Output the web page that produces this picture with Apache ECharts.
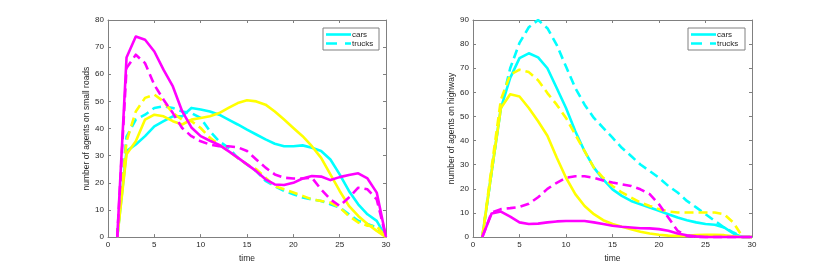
<!DOCTYPE html>
<html>
<head>
<meta charset="utf-8">
<script src="https://cdn.jsdelivr.net/npm/echarts@6/dist/echarts.min.js"></script>
<style>html,body{margin:0;padding:0;background:#fff}#c{width:830px;height:268px}</style>
</head>
<body>
<div id="c"></div>
<script>
const time = [1,2,3,4,5,6,7,8,9,10,11,12,13,14,15,16,17,18,19,20,21,22,23,24,25,26,27,28,29,30];
const xTicks = [0,5,10,15,20,25,30];

// Left panel: agents on small roads
const smallCyanCars   = [0,31.7,34.1,37.2,40.8,42.7,44.5,44.5,47.6,47,46.3,45.1,43.3,41.5,39.6,37.8,36,34.4,33.5,33.5,33.8,32.9,31.7,28.6,23.1,17,12.1,8.4,6,0];
const smallCyanTrucks = [0,37,43.3,45.1,47.6,48.2,47.6,46.3,45.7,43.9,39,35.3,32.9,29.2,26.8,24.3,20.7,18.8,17,15.8,14.6,13.9,13.3,12.1,10.9,8.4,6,4.8,3.6,0];
const smallYellowCars   = [0,30.5,35.3,43.3,45.1,44.5,42.7,41.5,43.3,43.9,44.5,45.7,47.6,49.4,50.4,50,48.8,46.3,43.3,40.2,37.2,33.5,29.2,23.1,17,11.5,7.8,4.8,2.3,0];
const smallYellowTrucks = [0,35.3,46.3,51.3,52.5,50,45.7,43.3,42.7,40.2,36.6,34.1,31.7,29.2,26.8,25,21.9,18.8,17.6,16.4,15.2,13.9,13.3,12.7,10.9,7.8,5.4,4.2,4,0];
const smallMagentaCars   = [0,66.2,73.9,72.7,68.4,61.6,55.5,46.4,40.4,37.2,35.5,34,31.7,29.3,26.8,24.3,21.3,19.4,19.2,20,21.6,22.5,22.3,21,22.1,22.9,23.5,21.6,16.4,0];
const smallMagentaTrucks = [0,62.3,67.2,64.1,56.1,50.6,45.7,40.2,37.2,35.3,34.1,33.5,33.5,33.1,31.7,28.6,25.6,23.1,21.9,21.6,21.6,21.9,17.6,13.9,11.5,14.6,18.2,17.6,13.9,0];
const smallYTicks = [0,10,20,30,40,50,60,70,80];

// Right panel: agents on highway
const hwCyanCars   = [0,27,53.5,66,74.2,76.2,74.5,70,61.8,53.5,43.9,35.6,28.8,23.9,19.8,17.1,15,13.6,12.3,10.9,9.5,8.1,7,6.1,5.4,5.1,4,1.5,0,0];
const hwCyanTrucks = [0,27,54,70,80.5,87,90,86.6,79.7,70.7,61.8,54.9,49.4,45.3,41.2,37,33.6,30.1,27.4,24.6,21.2,18.5,15,12.3,9.5,6.7,4,1.9,0,0];
const hwYellowCars   = [0,27,53.5,59.2,58.3,53.5,48,42,33,24.6,17.8,12.9,9.5,7,5.4,4.3,3.3,2.2,1.5,1,0.6,0.5,0.5,0.8,1,1,0.8,0.3,0,0];
const hwYellowTrucks = [0,29,57,67.3,69.4,68.4,65,59.7,54.9,49.4,42.5,35.6,28.8,24.6,21.2,18.5,16.4,14.3,12.9,11.6,10.6,10.2,10.2,10.2,10.2,10.2,9.5,6,0,0];
const hwMagentaCars   = [0,9.8,10.6,8.5,6.1,5.4,5.6,6.1,6.5,6.7,6.7,6.7,6.1,5.4,4.7,4.3,4,3.7,3.6,3.3,2.6,1.5,0.8,0.3,0,0,0,0,0,0];
const hwMagentaTrucks = [0,10.2,11.6,12,12.5,13.8,16.5,20,22.5,24.6,25.2,25.2,24.6,23.5,22.6,21.9,21.2,19.8,17.8,13.6,8.1,2.6,0.5,0,0,0,0,0,0,0];
const hwYTicks = [0,10,20,30,40,50,60,70,80,90];

const legendNames = ['cars','trucks'];
const xName = 'time';
const leftYName = 'number of agents on small roads';
const rightYName = 'number of agents on highway';

const CYAN = '#00FFFF', YELLOW = '#FFFF00', MAGENTA = '#FF00FF';
const AXC = '#262626';
const FONT = 'Liberation Sans';
const DASH = [9, 5];
const pair = arr => time.map((t, i) => [t, arr[i]]);

function xAx(grid, pos, showLabel, name) {
  return {
    type: 'value', gridIndex: grid, position: pos, min: xTicks[0], max: xTicks[xTicks.length-1], interval: 5,
    name: name || '', nameLocation: 'middle', nameGap: 16,
    nameTextStyle: { color: AXC, fontSize: 8.5, fontFamily: FONT },
    axisLine: { show: true, onZero: false, lineStyle: { color: '#808080', width: 1 } },
    axisTick: { show: true, inside: true, length: 3, lineStyle: { color: '#808080' } },
    axisLabel: { show: showLabel, color: AXC, fontSize: 8, fontFamily: FONT, margin: 4 },
    splitLine: { show: false }
  };
}
function yAx(grid, pos, ticks, showLabel, name) {
  return {
    type: 'value', gridIndex: grid, position: pos, min: ticks[0], max: ticks[ticks.length-1], interval: 10,
    name: name || '', nameLocation: 'middle', nameGap: 15, nameRotate: 90,
    nameTextStyle: { color: AXC, fontSize: 8.5, fontFamily: FONT },
    axisLine: { show: true, onZero: false, lineStyle: { color: '#808080', width: 1 } },
    axisTick: { show: true, inside: true, length: 3, lineStyle: { color: '#808080' } },
    axisLabel: { show: showLabel, color: AXC, fontSize: 8, fontFamily: FONT, margin: 4 },
    splitLine: { show: false }
  };
}
function ser(name, xi, yi, arr, color, dashed) {
  return {
    type: 'line', name: name, xAxisIndex: xi, yAxisIndex: yi, data: pair(arr),
    showSymbol: false, symbol: 'none', animation: false, silent: true,
    lineStyle: { color: color, width: 2.6, type: dashed ? DASH : 'solid', cap: 'butt', join: 'round' },
    itemStyle: { color: color }
  };
}
// legend drawn as graphic group (box + two line samples + labels)
function legendGroup(left, top, w) {
  return {
    type: 'group', left: left, top: top,
    children: [
      { type: 'rect', shape: { x: 0, y: 0, width: w, height: 22 }, style: { fill: '#fff', stroke: '#808080', lineWidth: 1 } },
      { type: 'line', shape: { x1: 3, y1: 6.5, x2: 28, y2: 6.5 }, style: { stroke: CYAN, lineWidth: 2.6 } },
      { type: 'line', shape: { x1: 3, y1: 15.5, x2: 28, y2: 15.5 }, style: { stroke: CYAN, lineWidth: 2.6, lineDash: [11, 8] } },
      { type: 'text', x: 29, y: 6.5, style: { text: legendNames[0], fill: AXC, fontSize: 8, fontFamily: FONT, verticalAlign: 'middle' } },
      { type: 'text', x: 29, y: 15.5, style: { text: legendNames[1], fill: AXC, fontSize: 8, fontFamily: FONT, verticalAlign: 'middle' } }
    ]
  };
}

const chart = echarts.init(document.getElementById('c'), null, { renderer: 'canvas' });
chart.setOption({
  animation: false,
  backgroundColor: '#fff',
  grid: [
    { left: 108, top: 20, width: 278, height: 218 },
    { left: 473, top: 20, width: 279, height: 218 }
  ],
  xAxis: [ xAx(0, 'bottom', true, xName), xAx(0, 'top', false), xAx(1, 'bottom', true, xName), xAx(1, 'top', false) ],
  yAxis: [ yAx(0, 'left', smallYTicks, true, leftYName), yAx(0, 'right', smallYTicks, false), yAx(1, 'left', hwYTicks, true, rightYName), yAx(1, 'right', hwYTicks, false) ],
  graphic: [ legendGroup(322.5, 27.5, 56), legendGroup(687.5, 27.5, 57) ],
  series: [
    ser('cars', 0, 0, smallCyanCars, CYAN, false),
    ser('trucks', 0, 0, smallCyanTrucks, CYAN, true),
    ser('small yellow cars', 0, 0, smallYellowCars, YELLOW, false),
    ser('small yellow trucks', 0, 0, smallYellowTrucks, YELLOW, true),
    ser('small magenta cars', 0, 0, smallMagentaCars, MAGENTA, false),
    ser('small magenta trucks', 0, 0, smallMagentaTrucks, MAGENTA, true),
    ser('hw cyan cars', 2, 2, hwCyanCars, CYAN, false),
    ser('hw cyan trucks', 2, 2, hwCyanTrucks, CYAN, true),
    ser('hw yellow cars', 2, 2, hwYellowCars, YELLOW, false),
    ser('hw yellow trucks', 2, 2, hwYellowTrucks, YELLOW, true),
    ser('hw magenta cars', 2, 2, hwMagentaCars, MAGENTA, false),
    ser('hw magenta trucks', 2, 2, hwMagentaTrucks, MAGENTA, true)
  ]
});
</script>
</body>
</html>
